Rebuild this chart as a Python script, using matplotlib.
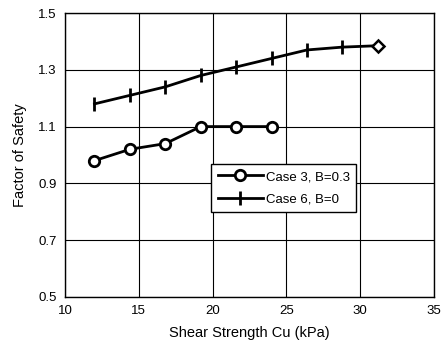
import numpy as np
import matplotlib.pyplot as plt

plt.rcParams['font.family'] = ['Liberation Sans', 'DejaVu Sans']

# Shear strength Cu (kPa)
cu_case6 = [12.0, 14.4, 16.8, 19.2, 21.6, 24.0, 26.4, 28.8, 31.2]
fs_case6 = [1.18, 1.21, 1.24, 1.28, 1.31, 1.34, 1.37, 1.38, 1.385]
cu_case3 = [12.0, 14.4, 16.8, 19.2, 21.6, 24.0]
fs_case3 = [0.98, 1.02, 1.04, 1.10, 1.10, 1.10]

x_ticks = [10, 15, 20, 25, 30, 35]
y_ticks = [0.5, 0.7, 0.9, 1.1, 1.3, 1.5]

fig = plt.figure(figsize=(4.45, 3.53), dpi=100)
ax = fig.add_axes([0.146, 0.159, 0.829, 0.804])

ax.plot(cu_case3, fs_case3, color='black', lw=2, marker='o', ms=7.5,
        mfc='white', mec='black', mew=2, label='Case 3, B=0.3', zorder=4)
ax.plot(cu_case6[:-1], fs_case6[:-1], color='black', lw=2, marker='|', ms=10,
        mew=2, label='Case 6, B=0', zorder=4)
# last point of case 6 drawn as an open diamond
ax.plot(cu_case6[-2:], fs_case6[-2:], color='black', lw=2, zorder=4)
ax.plot(cu_case6[-1:], fs_case6[-1:], linestyle='none', marker='D', ms=6,
        mfc='white', mec='black', mew=1.8, zorder=5)

ax.set_xlim(10, 35)
ax.set_ylim(0.5, 1.5)
ax.set_xticks(x_ticks)
ax.set_yticks(y_ticks)
ax.set_yticklabels([f'{v:.1f}' for v in y_ticks])
ax.tick_params(length=0, labelsize=9.5, pad=6)
ax.grid(True, color='black', lw=0.8)
ax.set_axisbelow(True)
for s in ax.spines.values():
    s.set_color('black')
    s.set_linewidth(1.0)

ax.set_xlabel('Shear Strength Cu (kPa)', fontsize=10.5, labelpad=6)
ax.set_ylabel('Factor of Safety', fontsize=10.5, labelpad=8)

leg = ax.legend(loc='lower left', bbox_to_anchor=(0.397, 0.30, 0.393, 0.165),
                mode='expand', borderaxespad=0, fontsize=9.5, frameon=True,
                fancybox=False, edgecolor='black', framealpha=1,
                handlelength=3.4, borderpad=0.5, labelspacing=0.75,
                handletextpad=0.2)
leg.get_frame().set_linewidth(1.0)

fig.savefig('out.png', dpi=100)
